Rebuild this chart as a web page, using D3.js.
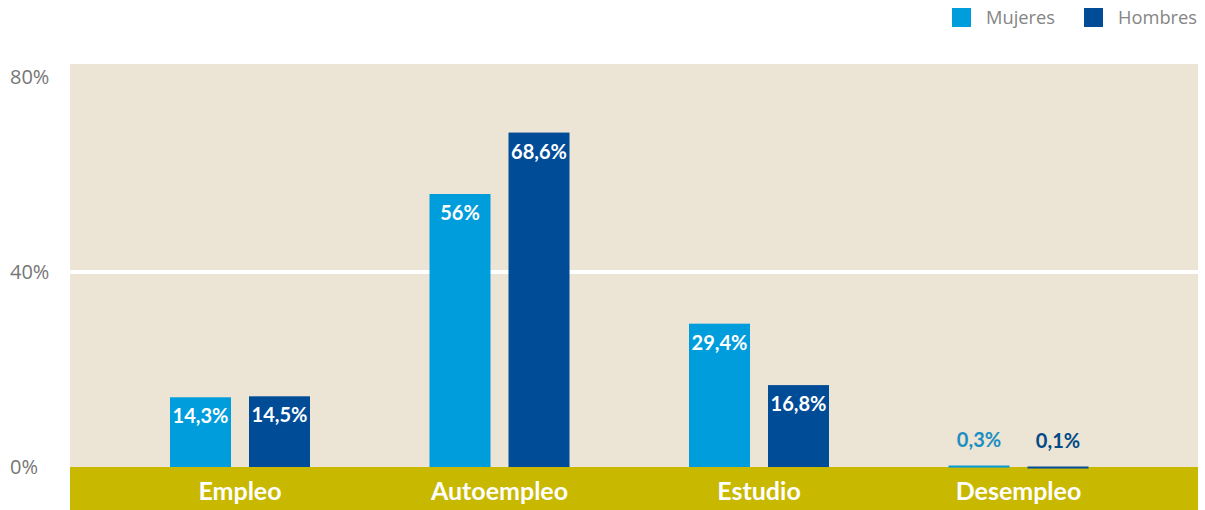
<!DOCTYPE html>
<html><head><meta charset="utf-8">
<script src="https://cdn.jsdelivr.net/npm/d3@7"></script>
<style>
html,body{margin:0;padding:0;background:#fff;}
svg{display:block;}
</style></head>
<body>
<svg id="chart" width="1205" height="510"></svg>
<script>
const categories = ["Empleo", "Autoempleo", "Estudio", "Desempleo"];
const seriesNames = ["Mujeres", "Hombres"];
const mujeres = [14.3, 56, 29.4, 0.3];
const hombres = [14.5, 68.6, 16.8, 0.1];
const valueLabels = {
  Mujeres: ["14,3%", "56%", "29,4%", "0,3%"],
  Hombres: ["14,5%", "68,6%", "16,8%", "0,1%"]
};
const yTicks = [0, 40, 80];
const yTickLabels = ["0%", "40%", "80%"];

const colors = {Mujeres: "#009ddc", Hombres: "#004c97"};
const outsideLabelColors = {Mujeres: "#1b8fc2", Hombres: "#004a86"};

const svg = d3.select("#chart");
const plotLeft = 70, plotRight = 1198, plotTop = 64, baseY = 467, bandBottom = 511;

const y = d3.scaleLinear().domain([0, 80]).range([baseY, 77]);
const x = d3.scaleBand().domain(categories).range([110.25, 1148.25]).padding(0);
const xs = d3.scaleBand().domain(seriesNames).range([-70, 70]).paddingInner(18/79).paddingOuter(0);

// background
svg.append("rect").attr("x", plotLeft).attr("y", plotTop)
  .attr("width", plotRight - plotLeft).attr("height", baseY - plotTop)
  .attr("fill", "#ece4d4");

// gridline (40%)
svg.append("g").selectAll("line").data(yTicks.filter(d => d > 0 && d < 80)).join("line")
  .attr("x1", plotLeft).attr("x2", plotRight)
  .attr("y1", d => y(d)).attr("y2", d => y(d))
  .attr("stroke", "#fff").attr("stroke-width", 4);

// y tick labels
svg.append("g").selectAll("text").data(yTicks).join("text")
  .attr("x", 10).attr("y", d => y(d))
  .attr("dy", "0.35em")
  .attr("font-family", "'Open Sans', sans-serif")
  .attr("font-size", 20).attr("fill", "#767676")
  .text((d, i) => yTickLabels[i]);

// category band
svg.append("rect").attr("x", plotLeft).attr("y", baseY)
  .attr("width", plotRight - plotLeft).attr("height", bandBottom - baseY)
  .attr("fill", "#c9b800");

svg.append("g").selectAll("text").data(categories).join("text")
  .attr("x", d => x(d) + x.bandwidth() / 2)
  .attr("y", 491).attr("dy", "0.35em")
  .attr("text-anchor", "middle")
  .attr("font-family", "Lato, 'Open Sans', sans-serif")
  .attr("font-weight", "bold").attr("font-size", 25)
  .attr("fill", "#fff")
  .text(d => d);

// bars
const data = [];
categories.forEach((c, i) => {
  data.push({cat: c, s: "Mujeres", v: mujeres[i], label: valueLabels.Mujeres[i]});
  data.push({cat: c, s: "Hombres", v: hombres[i], label: valueLabels.Hombres[i]});
});

const bars = svg.append("g");
bars.selectAll("rect").data(data).join("rect")
  .attr("x", d => x(d.cat) + x.bandwidth() / 2 + xs(d.s))
  .attr("y", d => y(d.v))
  .attr("width", xs.bandwidth())
  .attr("height", d => Math.max(baseY - y(d.v), 2))
  .attr("fill", d => colors[d.s]);

bars.selectAll("text").data(data).join("text")
  .attr("x", d => x(d.cat) + x.bandwidth() / 2 + xs(d.s) + xs.bandwidth() / 2)
  .attr("y", d => (baseY - y(d.v)) > 30 ? y(d.v) + 26 : y(d.v) - 19)
  .attr("text-anchor", "middle")
  .attr("font-family", "Lato, 'Open Sans', sans-serif")
  .attr("font-weight", "bold").attr("font-size", 20)
  .attr("fill", d => (baseY - y(d.v)) > 30 ? "#fff" : outsideLabelColors[d.s])
  .text(d => d.label);

// legend
const legendX = {Mujeres: 952, Hombres: 1084};
const lg = svg.append("g");
seriesNames.forEach(s => {
  lg.append("rect").attr("x", legendX[s]).attr("y", 8).attr("width", 19).attr("height", 19)
    .attr("fill", colors[s]);
  lg.append("text").attr("x", legendX[s] + 34).attr("y", 18).attr("dy", "0.35em")
    .attr("font-family", "'Open Sans', sans-serif").attr("font-size", 18.3)
    .attr("fill", "#858585").text(s);
});
</script>
</body></html>
